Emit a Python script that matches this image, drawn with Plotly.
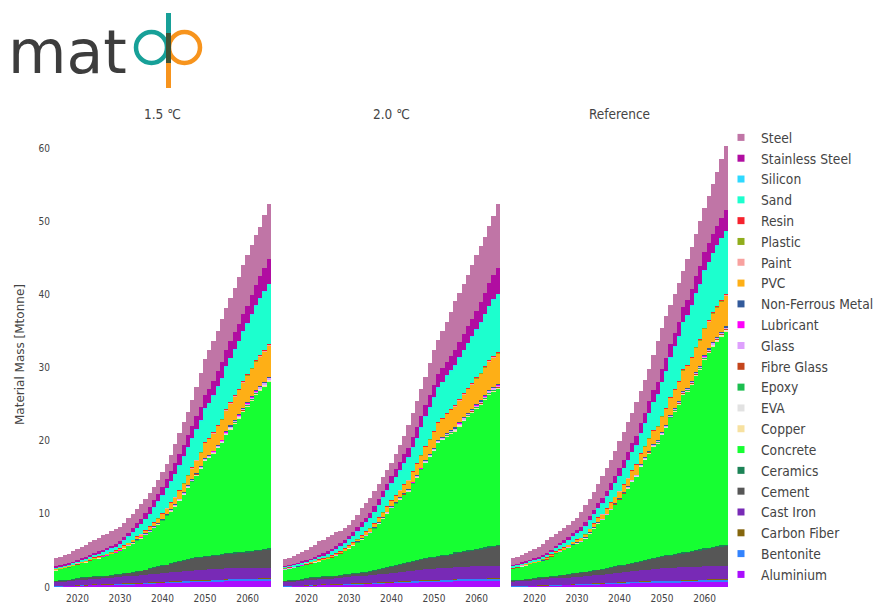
import plotly.graph_objects as go

YEARS = list(range(2015, 2066))
SCENARIOS = ["1.5 ℃", "2.0 ℃", "Reference"]
MATERIALS = ["Aluminium", "Bentonite", "Carbon Fiber", "Cast Iron", "Cement", "Ceramics",
             "Concrete", "Copper", "EVA", "Epoxy", "Fibre Glass", "Glass", "Lubricant",
             "Non-Ferrous Metal", "PVC", "Paint", "Plastic", "Resin", "Sand", "Silicon",
             "Stainless Steel", "Steel"]
COLORS = ["#AA0DFE", "#3283FE", "#85660D", "#782AB6", "#565656", "#1C8356", "#16FF32",
          "#F7E1A0", "#E2E2E2", "#1CBE4F", "#C4451C", "#DEA0FD", "#FE00FA", "#325A9B",
          "#FEAF16", "#F8A19F", "#90AD1C", "#F6222E", "#1CFFCE", "#2ED9FF", "#B10DA1",
          "#C075A6"]
X_TICKS = [2020, 2030, 2040, 2050, 2060]
Y_TICKS = [0, 10, 20, 30, 40, 50, 60]

# ---- per-scenario values (Mtonne), 2015..2065 ----
ALUMINIUM_15 = [0.12,0.12,0.14,0.15,0.17, 0.20,0.22,0.25,0.28,0.30, 0.30,0.32,0.32,0.34,0.35, 0.36,0.38,0.38,0.40,0.42, 0.44,0.46,0.50,0.52,0.55, 0.56,0.58,0.60,0.62,0.64, 0.66,0.68,0.70,0.72,0.72, 0.74,0.75,0.76,0.77,0.78, 0.78,0.80,0.80,0.81,0.82, 0.82,0.83,0.83,0.84,0.84,0.85]
ALUMINIUM_20 = [0.12,0.12,0.14,0.15,0.17, 0.20,0.22,0.25,0.28,0.30, 0.30,0.32,0.32,0.34,0.35, 0.36,0.38,0.38,0.40,0.42, 0.44,0.46,0.50,0.52,0.55, 0.56,0.58,0.60,0.62,0.64, 0.66,0.68,0.70,0.72,0.72, 0.74,0.75,0.76,0.77,0.78, 0.78,0.80,0.80,0.81,0.82, 0.82,0.83,0.83,0.84,0.84,0.85]
ALUMINIUM_REF = [0.10,0.10,0.12,0.13,0.15, 0.17,0.19,0.21,0.23,0.25, 0.26,0.27,0.28,0.29,0.30, 0.31,0.32,0.34,0.36,0.38, 0.40,0.42,0.44,0.46,0.48, 0.50,0.52,0.54,0.56,0.58, 0.60,0.61,0.62,0.63,0.64, 0.65,0.66,0.67,0.68,0.68, 0.69,0.69,0.70,0.70,0.71, 0.71,0.72,0.72,0.72,0.73,0.73]

BENTONITE_15 = [0.05,0.05,0.02,0.02,0.02, 0.02,0.06,0.02,0.02,0.06, 0.03,0.03,0.03,0.03,0.10, 0.10,0.10,0.10,0.10,0.10, 0.10,0.10,0.12,0.12,0.12, 0.12,0.12,0.16,0.16,0.16, 0.16,0.20,0.20,0.20,0.20, 0.20,0.20,0.20,0.20,0.20, 0.30,0.30,0.30,0.30,0.30, 0.30,0.30,0.32,0.32,0.35,0.35]
BENTONITE_20 = [0.05,0.05,0.02,0.02,0.02, 0.02,0.06,0.02,0.02,0.06, 0.03,0.03,0.03,0.03,0.10, 0.10,0.10,0.10,0.10,0.10, 0.10,0.10,0.12,0.12,0.12, 0.12,0.12,0.16,0.16,0.16, 0.16,0.20,0.20,0.20,0.20, 0.20,0.20,0.20,0.20,0.20, 0.30,0.30,0.30,0.30,0.30, 0.30,0.30,0.32,0.32,0.35,0.35]
BENTONITE_REF = [0.05,0.05,0.02,0.02,0.02, 0.02,0.06,0.02,0.02,0.06, 0.03,0.03,0.03,0.03,0.10, 0.10,0.10,0.10,0.10,0.10, 0.10,0.10,0.12,0.12,0.12, 0.12,0.12,0.16,0.16,0.16, 0.16,0.16,0.16,0.20,0.20, 0.20,0.20,0.20,0.20,0.20, 0.20,0.25,0.25,0.25,0.25, 0.30,0.30,0.30,0.32,0.32,0.32]

CAST_IRON_15 = [0.60,0.62,0.65,0.68,0.70, 0.75,0.78,0.80,0.82,0.84, 0.85,0.87,0.88,0.90,0.92, 0.95,0.97,1.00,1.02,1.04, 1.06,1.08,1.10,1.12,1.15, 1.18,1.20,1.22,1.25,1.28, 1.30,1.32,1.35,1.38,1.40, 1.42,1.44,1.45,1.46,1.46, 1.45,1.45,1.44,1.44,1.43, 1.43,1.42,1.42,1.41,1.40,1.40]
CAST_IRON_20 = [0.60,0.62,0.65,0.68,0.70, 0.75,0.78,0.80,0.82,0.84, 0.85,0.87,0.88,0.90,0.92, 0.95,0.97,1.00,1.02,1.04, 1.06,1.08,1.10,1.13,1.16, 1.20,1.23,1.26,1.30,1.33, 1.36,1.40,1.44,1.48,1.52, 1.55,1.58,1.60,1.62,1.64, 1.65,1.66,1.67,1.68,1.68, 1.69,1.69,1.69,1.69,1.69,1.69]
CAST_IRON_REF = [0.65,0.67,0.70,0.72,0.75, 0.78,0.80,0.82,0.84,0.86, 0.88,0.90,0.92,0.94,0.96, 0.98,1.00,1.03,1.06,1.09, 1.12,1.16,1.20,1.24,1.28, 1.32,1.36,1.40,1.44,1.48, 1.52,1.56,1.60,1.63,1.66, 1.69,1.72,1.74,1.76,1.78, 1.79,1.80,1.81,1.82,1.83, 1.84,1.85,1.86,1.86,1.87,1.87]

CEMENT_15 = [0.05,0.08,0.12,0.15,0.18, 0.22,0.23,0.24,0.25,0.26, 0.27,0.28,0.30,0.31,0.32, 0.33,0.38,0.44,0.50,0.55, 0.60,0.68,0.78,0.88,0.96, 1.04,1.12,1.22,1.32,1.40, 1.48,1.55,1.62,1.70,1.75, 1.79,1.83,1.87,1.92,1.96, 1.99,2.03,2.08,2.12,2.16, 2.20,2.28,2.35,2.42,2.50,2.55]
CEMENT_20 = [0.05,0.08,0.12,0.15,0.18, 0.21,0.22,0.22,0.23,0.23, 0.24,0.26,0.28,0.30,0.32, 0.34,0.37,0.40,0.44,0.47, 0.50,0.58,0.66,0.75,0.84, 0.92,1.00,1.08,1.16,1.23, 1.30,1.36,1.42,1.47,1.52, 1.57,1.63,1.70,1.76,1.82, 1.88,1.96,2.04,2.12,2.19, 2.26,2.36,2.46,2.56,2.65,2.73]
CEMENT_REF = [0.07,0.10,0.14,0.18,0.22, 0.25,0.27,0.29,0.31,0.32, 0.33,0.37,0.41,0.45,0.49, 0.53,0.57,0.61,0.65,0.68, 0.71,0.76,0.81,0.86,0.91, 0.96,1.00,1.05,1.10,1.15, 1.19,1.27,1.35,1.43,1.51, 1.59,1.66,1.73,1.80,1.87, 1.93,2.00,2.08,2.16,2.24, 2.32,2.40,2.48,2.56,2.63,2.70]

CONCRETE_15 = [1.48,1.58,1.65,1.69,1.80, 1.90,2.00,2.08,2.26,2.35, 2.46,2.62,2.73,2.91,2.98, 3.17,3.45,3.68,3.94,4.23, 4.45,4.78,5.02,5.42,5.75, 6.12,6.68,7.11,7.65,8.30, 8.97,9.75,10.43,11.21,12.02, 13.02,13.35,13.88,14.60,15.23, 16.16,16.90,17.65,18.30,19.15, 19.80,20.53,21.25,21.78,22.21,22.85]
CONCRETE_20 = [1.58,1.66,1.73,1.78,1.86, 1.91,1.95,2.09,2.18,2.25, 2.39,2.54,2.76,3.00,3.23, 3.52,3.85,4.19,4.56,4.94, 5.26,5.74,6.28,6.84,7.39, 7.95,8.42,8.85,9.31,9.69, 10.55,11.29,12.17,13.06,13.77, 14.46,15.46,15.76,16.17,16.48, 16.59,17.18,17.79,18.29,18.71, 19.21,19.60,20.18,20.77,21.05,21.34]
CONCRETE_REF = [1.67,1.76,1.85,1.93,1.99, 2.06,2.11,2.26,2.37,2.69, 3.08,3.25,3.40,3.66,3.87, 4.05,4.19,4.56,5.15,5.76, 6.35,6.70,7.25,7.83,8.42, 8.97,9.69,10.32,11.12,11.69, 12.94,13.73,14.51,15.26,15.60, 16.61,17.42,18.68,19.50,20.32, 21.59,21.92,22.73,23.87,24.60, 25.81,26.61,27.44,28.03,28.62,29.24]

PVC_15 = [0.09,0.09,0.09,0.09,0.09, 0.09,0.09,0.10,0.10,0.10, 0.10,0.11,0.12,0.14,0.16, 0.18,0.22,0.26,0.30,0.34, 0.37,0.42,0.48,0.55,0.62, 0.68,0.78,0.88,0.98,1.10, 1.23,1.38,1.55,1.72,1.88, 2.05,2.20,2.38,2.55,2.72, 2.90,3.05,3.20,3.35,3.50, 3.62,3.75,3.90,4.05,4.18,4.30]
PVC_20 = [0.09,0.09,0.09,0.09,0.09, 0.09,0.10,0.11,0.12,0.13, 0.14,0.15,0.16,0.17,0.18, 0.20,0.24,0.29,0.34,0.40, 0.46,0.52,0.58,0.64,0.70, 0.75,0.87,1.00,1.12,1.25, 1.37,1.50,1.66,1.84,2.02, 2.20,2.34,2.48,2.62,2.76, 2.90,3.02,3.14,3.26,3.38, 3.50,3.64,3.78,3.92,4.06,4.20]
PVC_REF = [0.07,0.07,0.08,0.08,0.09, 0.10,0.11,0.12,0.14,0.16, 0.18,0.21,0.24,0.27,0.30, 0.33,0.37,0.41,0.45,0.50, 0.55,0.62,0.70,0.78,0.86, 0.94,1.02,1.12,1.22,1.31, 1.40,1.52,1.66,1.80,1.94, 2.08,2.22,2.36,2.50,2.65, 2.80,2.96,3.12,3.28,3.44, 3.60,3.72,3.84,3.96,4.10,4.25]

SAND_15 = [0.18,0.18,0.19,0.20,0.21, 0.23,0.25,0.28,0.32,0.36, 0.41,0.43,0.46,0.50,0.52, 0.55,0.70,0.85,1.00,1.20, 1.37,1.55,1.75,2.00,2.25, 2.50,2.70,2.90,3.10,3.35, 3.56,3.75,3.95,4.15,4.35, 4.57,4.80,5.05,5.30,5.55, 5.84,6.05,6.30,6.55,6.80, 7.00,7.25,7.50,7.75,8.00,8.20]
SAND_20 = [0.18,0.18,0.19,0.20,0.21, 0.22,0.26,0.31,0.36,0.40, 0.45,0.52,0.59,0.66,0.73, 0.80,0.90,1.02,1.14,1.25, 1.37,1.55,1.75,1.95,2.15, 2.30,2.48,2.66,2.84,3.02, 3.20,3.45,3.75,4.05,4.30, 4.57,4.75,4.95,5.15,5.30, 5.50,5.72,5.94,6.16,6.38, 6.60,6.88,7.16,7.44,7.72,8.00]
SAND_REF = [0.18,0.18,0.19,0.20,0.22, 0.24,0.27,0.31,0.35,0.40, 0.45,0.52,0.60,0.68,0.76, 0.84,0.92,1.02,1.12,1.20, 1.28,1.42,1.58,1.74,1.90, 2.05,2.20,2.35,2.50,2.60, 2.70,3.05,3.45,3.85,4.25, 4.60,5.00,5.40,5.80,6.15, 6.50,6.78,7.04,7.30,7.55, 7.80,7.98,8.16,8.34,8.52,8.68]

STAINLESS_15 = [0.14,0.14,0.14,0.14,0.14, 0.14,0.16,0.18,0.21,0.24, 0.27,0.29,0.31,0.33,0.35, 0.37,0.42,0.48,0.55,0.62, 0.68,0.77,0.86,0.95,1.05, 1.14,1.22,1.32,1.42,1.50, 1.60,1.65,1.70,1.75,1.80, 1.83,1.90,2.00,2.10,2.20, 2.28,2.30,2.32,2.35,2.38, 2.40,2.60,2.80,3.00,3.20,3.42]
STAINLESS_20 = [0.14,0.14,0.14,0.14,0.14, 0.14,0.17,0.20,0.24,0.27, 0.30,0.33,0.36,0.39,0.42, 0.45,0.50,0.55,0.59,0.64, 0.68,0.73,0.78,0.84,0.90, 0.95,1.04,1.13,1.22,1.31, 1.40,1.46,1.52,1.58,1.64, 1.70,1.76,1.82,1.88,1.94, 2.00,2.10,2.20,2.30,2.40, 2.50,2.70,2.90,3.10,3.32,3.54]
STAINLESS_REF = [0.14,0.14,0.14,0.14,0.15, 0.16,0.17,0.19,0.21,0.24, 0.27,0.31,0.35,0.39,0.43, 0.47,0.51,0.55,0.60,0.64, 0.68,0.74,0.80,0.87,0.94, 1.00,1.07,1.14,1.21,1.30, 1.40,1.46,1.52,1.58,1.64, 1.70,1.76,1.82,1.88,1.94, 2.00,2.10,2.20,2.30,2.40, 2.50,2.55,2.60,2.64,2.70,2.74]

STEEL_15 = [1.07,1.11,1.24,1.28,1.49, 1.52,1.62,1.69,1.80,1.83, 1.88,2.01,1.95,1.97,2.04, 2.00,1.94,1.97,1.94,1.94, 1.94,1.90,1.96,1.82,1.82, 2.06,1.99,2.28,2.67,2.94, 3.15,3.21,3.59,4.02,4.63, 4.94,5.33,5.47,5.52,5.90, 5.67,5.87,6.00,6.44,6.61, 6.92,6.82,6.88,6.68,7.20,7.56]
STEEL_20 = [0.91,0.96,1.09,1.19,1.35, 1.46,1.55,1.68,1.84,1.88, 1.93,1.93,1.94,1.76,1.71, 1.54,1.68,1.74,1.95,1.97, 1.99,2.01,2.05,1.94,1.84, 1.81,2.01,2.24,2.53,3.18, 3.28,3.58,3.66,3.81,4.44, 4.74,4.63,5.07,5.45,6.07, 6.71,6.71,6.76,6.95,7.38, 7.57,7.68,7.64,7.78,8.11,8.69]
STEEL_REF = [0.97,0.97,1.07,1.09,1.22, 1.31,1.43,1.55,1.85,1.70, 1.61,1.64,1.73,1.61,1.66, 1.66,2.11,2.38,2.33,2.43, 2.63,2.90,3.07,3.21,3.43, 3.67,3.78,4.05,4.10,4.60, 4.34,4.39,4.44,4.89,5.66, 5.67,5.75,5.25,5.24,5.28, 4.92,5.51,5.77,5.76,6.24, 5.96,6.40,6.73,7.39,8.06,8.85]

# ---- minor materials (similar in all three scenarios) ----
CARBON_FIBER = [0.002,0.002,0.002,0.002,0.002, 0.002,0.002,0.002,0.002,0.002, 0.003,0.003,0.003,0.003,0.003, 0.003,0.003,0.003,0.003,0.003, 0.004,0.004,0.004,0.004,0.004, 0.005,0.005,0.005,0.005,0.005, 0.006,0.006,0.006,0.006,0.006, 0.007,0.007,0.007,0.007,0.007, 0.008,0.008,0.008,0.008,0.008, 0.01,0.01,0.01,0.01,0.01,0.01]
CERAMICS = [0.02,0.02,0.02,0.02,0.02, 0.02,0.02,0.02,0.02,0.02, 0.03,0.03,0.03,0.03,0.03, 0.03,0.03,0.03,0.03,0.03, 0.04,0.04,0.04,0.04,0.04, 0.05,0.05,0.05,0.05,0.05, 0.06,0.07,0.07,0.07,0.07, 0.08,0.08,0.08,0.08,0.09, 0.10,0.10,0.10,0.10,0.11, 0.11,0.12,0.12,0.12,0.12,0.12]
COPPER = [0.01,0.01,0.01,0.01,0.01, 0.01,0.01,0.01,0.02,0.02, 0.02,0.02,0.02,0.02,0.02, 0.02,0.02,0.02,0.03,0.03, 0.03,0.03,0.03,0.03,0.04, 0.04,0.04,0.05,0.05,0.05, 0.06,0.06,0.06,0.07,0.07, 0.08,0.08,0.08,0.09,0.09, 0.10,0.10,0.10,0.11,0.11, 0.12,0.12,0.12,0.13,0.13,0.13]
EVA = [0.01,0.01,0.01,0.01,0.01, 0.01,0.01,0.01,0.01,0.01, 0.01,0.01,0.01,0.01,0.01, 0.02,0.02,0.02,0.02,0.02, 0.02,0.02,0.02,0.02,0.02, 0.03,0.03,0.03,0.03,0.03, 0.04,0.04,0.04,0.04,0.04, 0.05,0.05,0.05,0.05,0.05, 0.06,0.06,0.06,0.06,0.06, 0.07,0.07,0.07,0.07,0.07,0.07]
EPOXY = [0.005,0.005,0.005,0.005,0.005, 0.005,0.005,0.005,0.005,0.005, 0.01,0.01,0.01,0.01,0.01, 0.01,0.01,0.01,0.01,0.01, 0.015,0.015,0.015,0.015,0.015, 0.02,0.02,0.02,0.02,0.02, 0.03,0.03,0.03,0.03,0.03, 0.035,0.035,0.035,0.035,0.035, 0.04,0.04,0.04,0.04,0.04, 0.05,0.05,0.05,0.05,0.05,0.05]
FIBRE_GLASS = [0.01,0.01,0.01,0.01,0.01, 0.01,0.01,0.01,0.01,0.01, 0.01,0.01,0.01,0.01,0.01, 0.02,0.02,0.02,0.02,0.02, 0.02,0.02,0.02,0.02,0.02, 0.03,0.03,0.03,0.03,0.03, 0.03,0.03,0.03,0.03,0.03, 0.04,0.04,0.04,0.04,0.04, 0.05,0.05,0.05,0.05,0.05, 0.05,0.05,0.05,0.05,0.05,0.05]
GLASS = [0.02,0.02,0.02,0.02,0.02, 0.02,0.02,0.02,0.02,0.02, 0.03,0.03,0.03,0.03,0.03, 0.04,0.04,0.04,0.04,0.04, 0.05,0.05,0.05,0.05,0.06, 0.07,0.07,0.07,0.08,0.08, 0.09,0.09,0.10,0.10,0.11, 0.12,0.12,0.13,0.13,0.14, 0.15,0.15,0.16,0.16,0.17, 0.18,0.18,0.19,0.19,0.20,0.20]
LUBRICANT = [0.005,0.005,0.005,0.005,0.005, 0.005,0.005,0.005,0.005,0.005, 0.005,0.005,0.005,0.005,0.005, 0.01,0.01,0.01,0.01,0.01, 0.01,0.01,0.01,0.01,0.01, 0.01,0.01,0.01,0.01,0.01, 0.015,0.015,0.015,0.015,0.015, 0.02,0.02,0.02,0.02,0.02, 0.02,0.02,0.02,0.02,0.02, 0.03,0.03,0.03,0.03,0.03,0.03]
NON_FERROUS = [0.01,0.01,0.01,0.01,0.01, 0.01,0.01,0.01,0.01,0.01, 0.015,0.015,0.015,0.015,0.015, 0.02,0.02,0.02,0.02,0.02, 0.03,0.03,0.03,0.03,0.03, 0.04,0.04,0.04,0.04,0.04, 0.05,0.05,0.05,0.05,0.05, 0.06,0.06,0.06,0.06,0.06, 0.08,0.08,0.08,0.08,0.08, 0.10,0.10,0.10,0.10,0.10,0.10]
PAINT = [0.01,0.01,0.01,0.01,0.01, 0.01,0.01,0.01,0.01,0.01, 0.01,0.01,0.01,0.01,0.01, 0.015,0.015,0.015,0.015,0.015, 0.02,0.02,0.02,0.02,0.02, 0.025,0.025,0.025,0.025,0.025, 0.03,0.03,0.03,0.03,0.03, 0.04,0.04,0.04,0.04,0.04, 0.05,0.05,0.05,0.05,0.05, 0.06,0.06,0.06,0.06,0.06,0.06]
PLASTIC = [0.01,0.01,0.01,0.01,0.01, 0.01,0.01,0.01,0.01,0.01, 0.015,0.015,0.015,0.015,0.015, 0.02,0.02,0.02,0.02,0.02, 0.025,0.025,0.025,0.025,0.025, 0.03,0.03,0.03,0.03,0.03, 0.04,0.04,0.04,0.04,0.04, 0.05,0.05,0.05,0.05,0.05, 0.06,0.06,0.06,0.06,0.06, 0.07,0.07,0.07,0.07,0.07,0.07]
RESIN = [0.005,0.005,0.005,0.005,0.005, 0.005,0.005,0.005,0.005,0.005, 0.01,0.01,0.01,0.01,0.01, 0.01,0.01,0.01,0.01,0.01, 0.015,0.015,0.015,0.015,0.015, 0.02,0.02,0.02,0.02,0.02, 0.02,0.02,0.02,0.02,0.02, 0.03,0.03,0.03,0.03,0.03, 0.03,0.03,0.03,0.03,0.03, 0.04,0.04,0.04,0.04,0.04,0.04]
SILICON = [0.005,0.005,0.005,0.005,0.005, 0.005,0.005,0.005,0.005,0.005, 0.005,0.005,0.005,0.005,0.005, 0.01,0.01,0.01,0.01,0.01, 0.01,0.01,0.01,0.01,0.01, 0.01,0.01,0.01,0.01,0.01, 0.015,0.015,0.015,0.015,0.015, 0.015,0.015,0.015,0.015,0.015, 0.02,0.02,0.02,0.02,0.02, 0.02,0.02,0.02,0.02,0.02,0.02]

SERIES = {
    "Aluminium": [ALUMINIUM_15, ALUMINIUM_20, ALUMINIUM_REF],
    "Bentonite": [BENTONITE_15, BENTONITE_20, BENTONITE_REF],
    "Carbon Fiber": [CARBON_FIBER, CARBON_FIBER, CARBON_FIBER],
    "Cast Iron": [CAST_IRON_15, CAST_IRON_20, CAST_IRON_REF],
    "Cement": [CEMENT_15, CEMENT_20, CEMENT_REF],
    "Ceramics": [CERAMICS, CERAMICS, CERAMICS],
    "Concrete": [CONCRETE_15, CONCRETE_20, CONCRETE_REF],
    "Copper": [COPPER, COPPER, COPPER],
    "EVA": [EVA, EVA, EVA],
    "Epoxy": [EPOXY, EPOXY, EPOXY],
    "Fibre Glass": [FIBRE_GLASS, FIBRE_GLASS, FIBRE_GLASS],
    "Glass": [GLASS, GLASS, GLASS],
    "Lubricant": [LUBRICANT, LUBRICANT, LUBRICANT],
    "Non-Ferrous Metal": [NON_FERROUS, NON_FERROUS, NON_FERROUS],
    "PVC": [PVC_15, PVC_20, PVC_REF],
    "Paint": [PAINT, PAINT, PAINT],
    "Plastic": [PLASTIC, PLASTIC, PLASTIC],
    "Resin": [RESIN, RESIN, RESIN],
    "Sand": [SAND_15, SAND_20, SAND_REF],
    "Silicon": [SILICON, SILICON, SILICON],
    "Stainless Steel": [STAINLESS_15, STAINLESS_20, STAINLESS_REF],
    "Steel": [STEEL_15, STEEL_20, STEEL_REF],
}
for m, lists in SERIES.items():
    for lst in lists:
        assert len(lst) == len(YEARS), (m, len(lst))

FONT = "'DejaVu Sans Condensed', 'Liberation Sans', sans-serif"
TEXT = "#444444"
AXES = ["x", "x2", "x3"]

fig = go.Figure()
for j, sc in enumerate(SCENARIOS):
    for m, c in zip(MATERIALS, COLORS):
        fig.add_trace(go.Bar(x=YEARS, y=SERIES[m][j], name=m, marker=dict(color=c, line=dict(width=0)),
                             xaxis=AXES[j], yaxis="y", showlegend=False, legendgroup=m))
# legend entries (top = Steel)
for m, c in reversed(list(zip(MATERIALS, COLORS))):
    fig.add_trace(go.Scatter(x=[None], y=[None], mode="markers", name=m, legendgroup=m,
                             marker=dict(symbol="square", size=7, color=c), xaxis="x", yaxis="y"))

# page body margin is removed (post_script) so figure pixels == screen pixels
FIG_W, FIG_H = 877, 604
PLOT_L, PLOT_R, PLOT_T, PLOT_B = 54, 728, 124, 587
L, R, T, B = PLOT_L, FIG_W - PLOT_R, PLOT_T, FIG_H - PLOT_B
W, H = PLOT_R - PLOT_L, PLOT_B - PLOT_T
def px(x):
    return (x - PLOT_L) / W
def py(y):
    return (PLOT_B - y) / H

DOMAINS = [[px(54), px(271)], [px(283), px(500)], [px(511), px(728)]]
axis_common = dict(range=[2014.5, 2065.5], tickvals=X_TICKS, showgrid=False, zeroline=False,
                   showline=False, ticks="", tickfont=dict(size=10, color=TEXT), automargin=False,
                   anchor="y", ticklabelstandoff=4)
fig.update_layout(
    xaxis=dict(domain=DOMAINS[0], **axis_common),
    xaxis2=dict(domain=DOMAINS[1], **axis_common),
    xaxis3=dict(domain=DOMAINS[2], **axis_common),
    yaxis=dict(range=[0, 63.3], tickvals=Y_TICKS, showgrid=False, zeroline=False, showline=False,
               ticks="", tickfont=dict(size=10, color=TEXT), automargin=False, anchor="x",
               ticklabelstandoff=3),
)

annotations = []
for j, sc in enumerate(SCENARIOS):
    annotations.append(dict(text=sc, x=(DOMAINS[j][0] + DOMAINS[j][1]) / 2, y=1, xref="paper",
                            yref="paper", xanchor="center", yanchor="bottom", showarrow=False,
                            font=dict(size=13.5, color=TEXT)))
# y axis title
annotations.append(dict(text="Material Mass [Mtonne]", x=px(20), y=py(355), xref="paper",
                        yref="paper", xanchor="center", yanchor="middle", textangle=-90,
                        showarrow=False, font=dict(family="DejaVu Sans", size=12, color=TEXT)))
# logo text
annotations.append(dict(text="mat", x=px(6), y=py(52), xref="paper", yref="paper",
                        xanchor="left", yanchor="middle", showarrow=False,
                        font=dict(family="DejaVu Sans", size=60, color="#3d3d3d")))

TEAL, ORANGE, DARK = "#17A098", "#F7941D", "#3E5235"
shapes = [
    dict(type="circle", xref="paper", yref="paper", xsizemode="pixel", ysizemode="pixel",
         xanchor=px(184.5), yanchor=py(47.5), x0=-15.5, x1=15.5, y0=-15.5, y1=15.5,
         line=dict(color=ORANGE, width=4.5)),
    dict(type="circle", xref="paper", yref="paper", xsizemode="pixel", ysizemode="pixel",
         xanchor=px(151.5), yanchor=py(47.5), x0=-15.5, x1=15.5, y0=-15.5, y1=15.5,
         line=dict(color=TEAL, width=4.5)),
    dict(type="line", xref="paper", yref="paper", x0=px(168.5), x1=px(168.5), y0=py(13), y1=py(33),
         line=dict(color=TEAL, width=5)),
    dict(type="line", xref="paper", yref="paper", x0=px(168.5), x1=px(168.5), y0=py(33), y1=py(63),
         line=dict(color=DARK, width=5)),
    dict(type="line", xref="paper", yref="paper", x0=px(168.5), x1=px(168.5), y0=py(63), y1=py(88),
         line=dict(color=ORANGE, width=5)),
]

fig.update_layout(
    width=FIG_W, height=FIG_H,
    margin=dict(l=L, r=R, t=T, b=B, pad=0, autoexpand=False),
    barmode="stack", bargap=0,
    hovermode=False,
    plot_bgcolor="white", paper_bgcolor="white",
    font=dict(family=FONT, size=12, color=TEXT),
    showlegend=True,
    legend=dict(x=px(721), xanchor="left", yref="container", y=(FIG_H - 122) / FIG_H,
                yanchor="top", traceorder="normal", maxheight=1,
                font=dict(size=13.7, color=TEXT), bgcolor="rgba(0,0,0,0)"),
    annotations=annotations,
    shapes=shapes,
)

fig.write_html("out.html", config={"displayModeBar": False},
               post_script="document.body.style.margin='0px';document.body.style.overflow='hidden';")
